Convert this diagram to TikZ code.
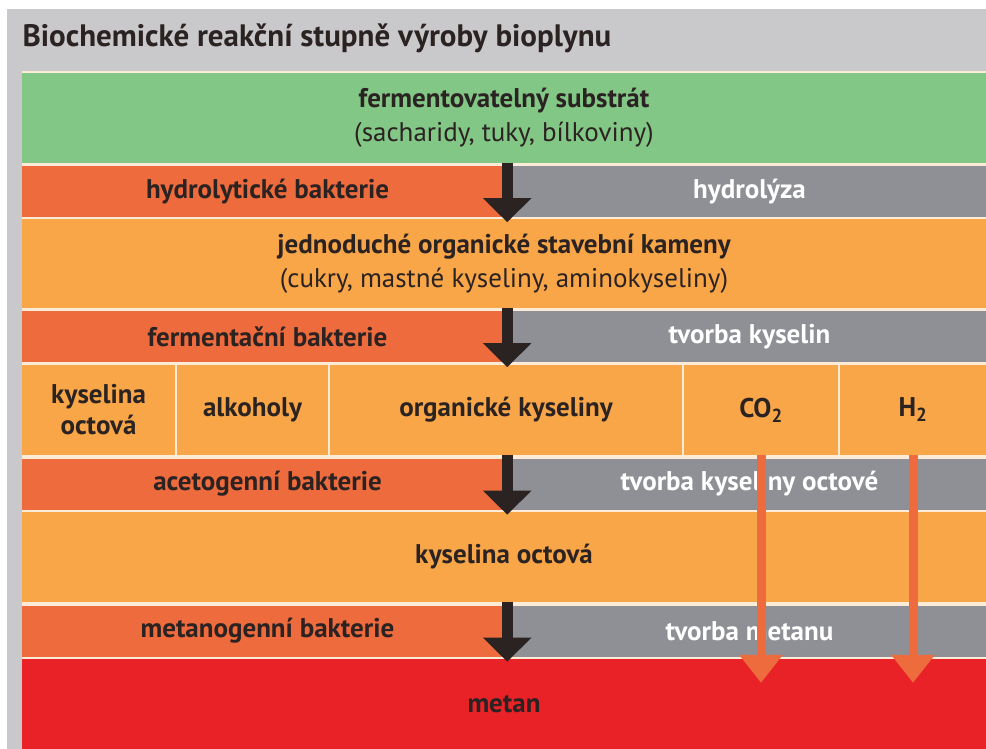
\documentclass[tikz,border=0pt]{standalone}
\usepackage{fontspec}
\setmainfont{PT Sans}
\usetikzlibrary{arrows.meta}
\definecolor{bggrey}{HTML}{C9C9CB}
\definecolor{gapcream}{HTML}{FCEBD6}
\definecolor{substrgreen}{HTML}{82C785}
\definecolor{bactred}{HTML}{EE6B3D}
\definecolor{procgrey}{HTML}{8F9095}
\definecolor{layerorange}{HTML}{F8A648}
\definecolor{methred}{HTML}{E92228}
\definecolor{textdark}{HTML}{2B2222}
\begin{document}
\begin{tikzpicture}[x=1pt,y=-1pt]
\tikzstyle{band}=[rectangle,inner sep=0pt,align=center,text=textdark,font=\fontsize{27}{34}\selectfont\bfseries]
\tikzstyle{bact}=[band,fill=bactred,minimum width=491pt,minimum height=51pt]
\tikzstyle{proc}=[band,fill=procgrey,text=white,minimum width=473pt,minimum height=51pt]
\tikzstyle{layer}=[band,fill=layerorange,minimum width=964pt,minimum height=89pt]
\tikzstyle{cell}=[band,fill=layerorange,minimum height=90pt,font=\fontsize{27}{31}\selectfont\bfseries]
\tikzstyle{stepdown}=[-{Triangle[width=47pt,length=24pt]},line width=11pt,draw=textdark]
\tikzstyle{gasdown}=[-{Triangle[width=42pt,length=28pt]},line width=9pt,draw=bactred]

% page and frame
\useasboundingbox (0,0) rectangle (986,749);
\fill[white] (0,0) rectangle (986,749);
\fill[bggrey] (7,9) rectangle (986,749);
\fill[gapcream] (22,71) rectangle (986,749);

\node[anchor=west,text=textdark,font=\fontsize{31}{36}\selectfont\bfseries] (title) at (19,38)
  {Biochemické reakční stupně výroby bioplynu};

% layers
\node[layer,fill=substrgreen,minimum height=90pt] (substrat) at (504,118)
  {fermentovatelný substrát\\{\mdseries (sacharidy, tuky, bílkoviny)}};
\node[layer] (kameny) at (504,263.5)
  {jednoduché organické stavební kameny\\{\mdseries (cukry, mastné kyseliny, aminokyseliny)}};
\node[layer,minimum height=90pt] (octova) at (504,557) {kyselina octová};
\node[layer,fill=methred,minimum height=90pt] (metan) at (504,704) {metan};

% bacteria / process bands
\foreach \i/\cy/\bakt/\proces in {hydro/191.5/hydrolytické bakterie/hydrolýza,
                                  ferm/336.5/fermentační bakterie/tvorba kyselin,
                                  acet/484/acetogenní bakterie/tvorba kyseliny octové,
                                  meth/631/metanogenní bakterie/tvorba metanu} {
  \node[bact] (\i L) at (267.5,\cy) {\bakt};
  \node[proc] (\i R) at (749.5,\cy) {\proces};
}

% intermediate products
\foreach \i/\cx/\w/\lbl in {kys/98.5/153/{kyselina\\octová},
                            alk/252.5/151/{alkoholy},
                            org/506/352/{organické kyseliny},
                            co2/761/154/{CO\textsubscript{2}},
                            h2/913/146/{H\textsubscript{2}}} {
  \node[cell,minimum width=\w pt] (\i) at (\cx,410) {\lbl};
}

% main steps
\foreach \i in {hydro,ferm,acet,meth} {
  \draw[stepdown] ([xshift=-6pt,yshift=3pt]\i L.north east) -- ([xshift=-6pt,yshift=-5pt]\i L.south east);
}

% gases straight to methane
\draw[gasdown] (co2.south) -- ([yshift=-24pt]co2.south |- metan.north);
\draw[gasdown] (h2.south) -- ([yshift=-24pt]h2.south |- metan.north);
\end{tikzpicture}
\end{document}
